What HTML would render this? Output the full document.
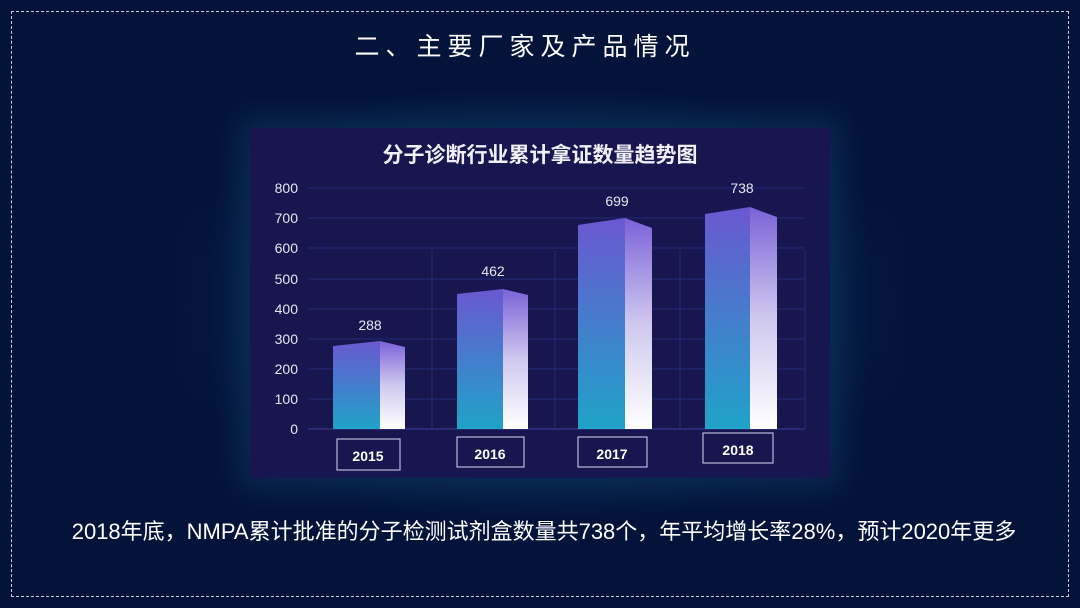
<!DOCTYPE html>
<html><head><meta charset="utf-8"><style>
body{margin:0;width:1080px;height:608px;background:#04133a;overflow:hidden;position:relative;font-family:"Liberation Sans","Noto Sans CJK SC",sans-serif}
.bd{position:absolute;left:11px;top:11px;right:11px;bottom:11px;border:1.5px dashed #c8cede}
.glow{position:absolute;left:180px;top:90px;width:720px;height:430px;background:radial-gradient(ellipse at center,rgba(20,80,120,0.55) 0%,rgba(10,50,90,0.35) 50%,rgba(4,19,58,0) 75%)}
.panel{position:absolute;left:250px;top:128px;width:580px;height:350px;background:#17164f;box-shadow:0 0 30px 10px rgba(20,90,130,0.35)}
.h1{position:absolute;left:0;width:1050px;top:27px;text-align:center;color:#fff;font-size:25px;letter-spacing:6px;font-family:"Noto Sans CJK SC",sans-serif}
.ft{position:absolute;left:0;width:1088px;top:514px;text-align:center;color:#fff;font-size:22px;font-family:"Liberation Sans","Noto Sans CJK SC",sans-serif;white-space:nowrap}
</style></head><body>
<div class="glow"></div>
<div class="bd"></div>
<div class="h1">二、主要厂家及产品情况</div>
<div class="panel"></div>
<svg style="position:absolute;left:0;top:0" width="1080" height="608">
<defs>
<linearGradient id="f" x1="0" y1="0" x2="0" y2="1"><stop offset="0" stop-color="#6a58d0"/><stop offset="1" stop-color="#1fa3c8"/></linearGradient>
<linearGradient id="s" x1="0" y1="0" x2="0" y2="1"><stop offset="0" stop-color="#7a62d8"/><stop offset="0.5" stop-color="#cfc8ee"/><stop offset="1" stop-color="#ffffff"/></linearGradient>
</defs>
<text x="540" y="162" fill="#f0f0f8" font-size="21" font-weight="bold" text-anchor="middle" font-family="Noto Sans CJK SC,sans-serif">分子诊断行业累计拿证数量趋势图</text>
<g stroke="#262a7a" stroke-width="1">
<line x1="308" y1="188" x2="805" y2="188"/><line x1="308" y1="218" x2="805" y2="218"/><line x1="308" y1="248" x2="805" y2="248"/><line x1="308" y1="279" x2="805" y2="279"/><line x1="308" y1="309" x2="805" y2="309"/><line x1="308" y1="339" x2="805" y2="339"/><line x1="308" y1="369" x2="805" y2="369"/><line x1="308" y1="399" x2="805" y2="399"/>
<line x1="432" y1="250" x2="432" y2="429"/><line x1="555" y1="250" x2="555" y2="429"/><line x1="680" y1="250" x2="680" y2="429"/><line x1="805" y1="250" x2="805" y2="429"/>
</g>
<line x1="308" y1="429" x2="805" y2="429" stroke="#3a3f9a"/>
<g fill="#e6e6f0" font-size="14" text-anchor="end">
<text x="298" y="193">800</text><text x="298" y="223">700</text><text x="298" y="253">600</text><text x="298" y="284">500</text><text x="298" y="314">400</text><text x="298" y="344">300</text><text x="298" y="374">200</text><text x="298" y="404">100</text><text x="298" y="434">0</text>
</g>
<g>
<polygon points="333,346 380,341 380,429 333,429" fill="url(#f)"/><polygon points="380,341 405,347 405,429 380,429" fill="url(#s)"/>
<polygon points="457,294 503,289 503,429 457,429" fill="url(#f)"/><polygon points="503,289 528,295 528,429 503,429" fill="url(#s)"/>
<polygon points="578,225 625,218 625,429 578,429" fill="url(#f)"/><polygon points="625,218 652,228 652,429 625,429" fill="url(#s)"/>
<polygon points="705,214 750,207 750,429 705,429" fill="url(#f)"/><polygon points="750,207 777,217 777,429 750,429" fill="url(#s)"/>
</g>
<g fill="#e6e6f0" font-size="14" text-anchor="middle">
<text x="370" y="330">288</text><text x="493" y="276">462</text><text x="617" y="206">699</text><text x="742" y="193">738</text>
</g>
<g fill="none" stroke="#b8b8d8" stroke-width="1.2">
<rect x="337" y="439" width="63" height="31"/><rect x="457" y="437" width="67" height="30"/><rect x="578" y="437" width="69" height="30"/><rect x="703" y="433" width="70" height="30"/>
</g>
<g fill="#fff" font-size="14" font-weight="bold" text-anchor="middle">
<text x="368" y="461">2015</text><text x="490" y="459">2016</text><text x="612" y="459">2017</text><text x="738" y="455">2018</text>
</g>
</svg>
<div class="ft">2018年底，NMPA累计批准的分子检测试剂盒数量共738个，年平均增长率28%，预计2020年更多</div>
</body></html>
